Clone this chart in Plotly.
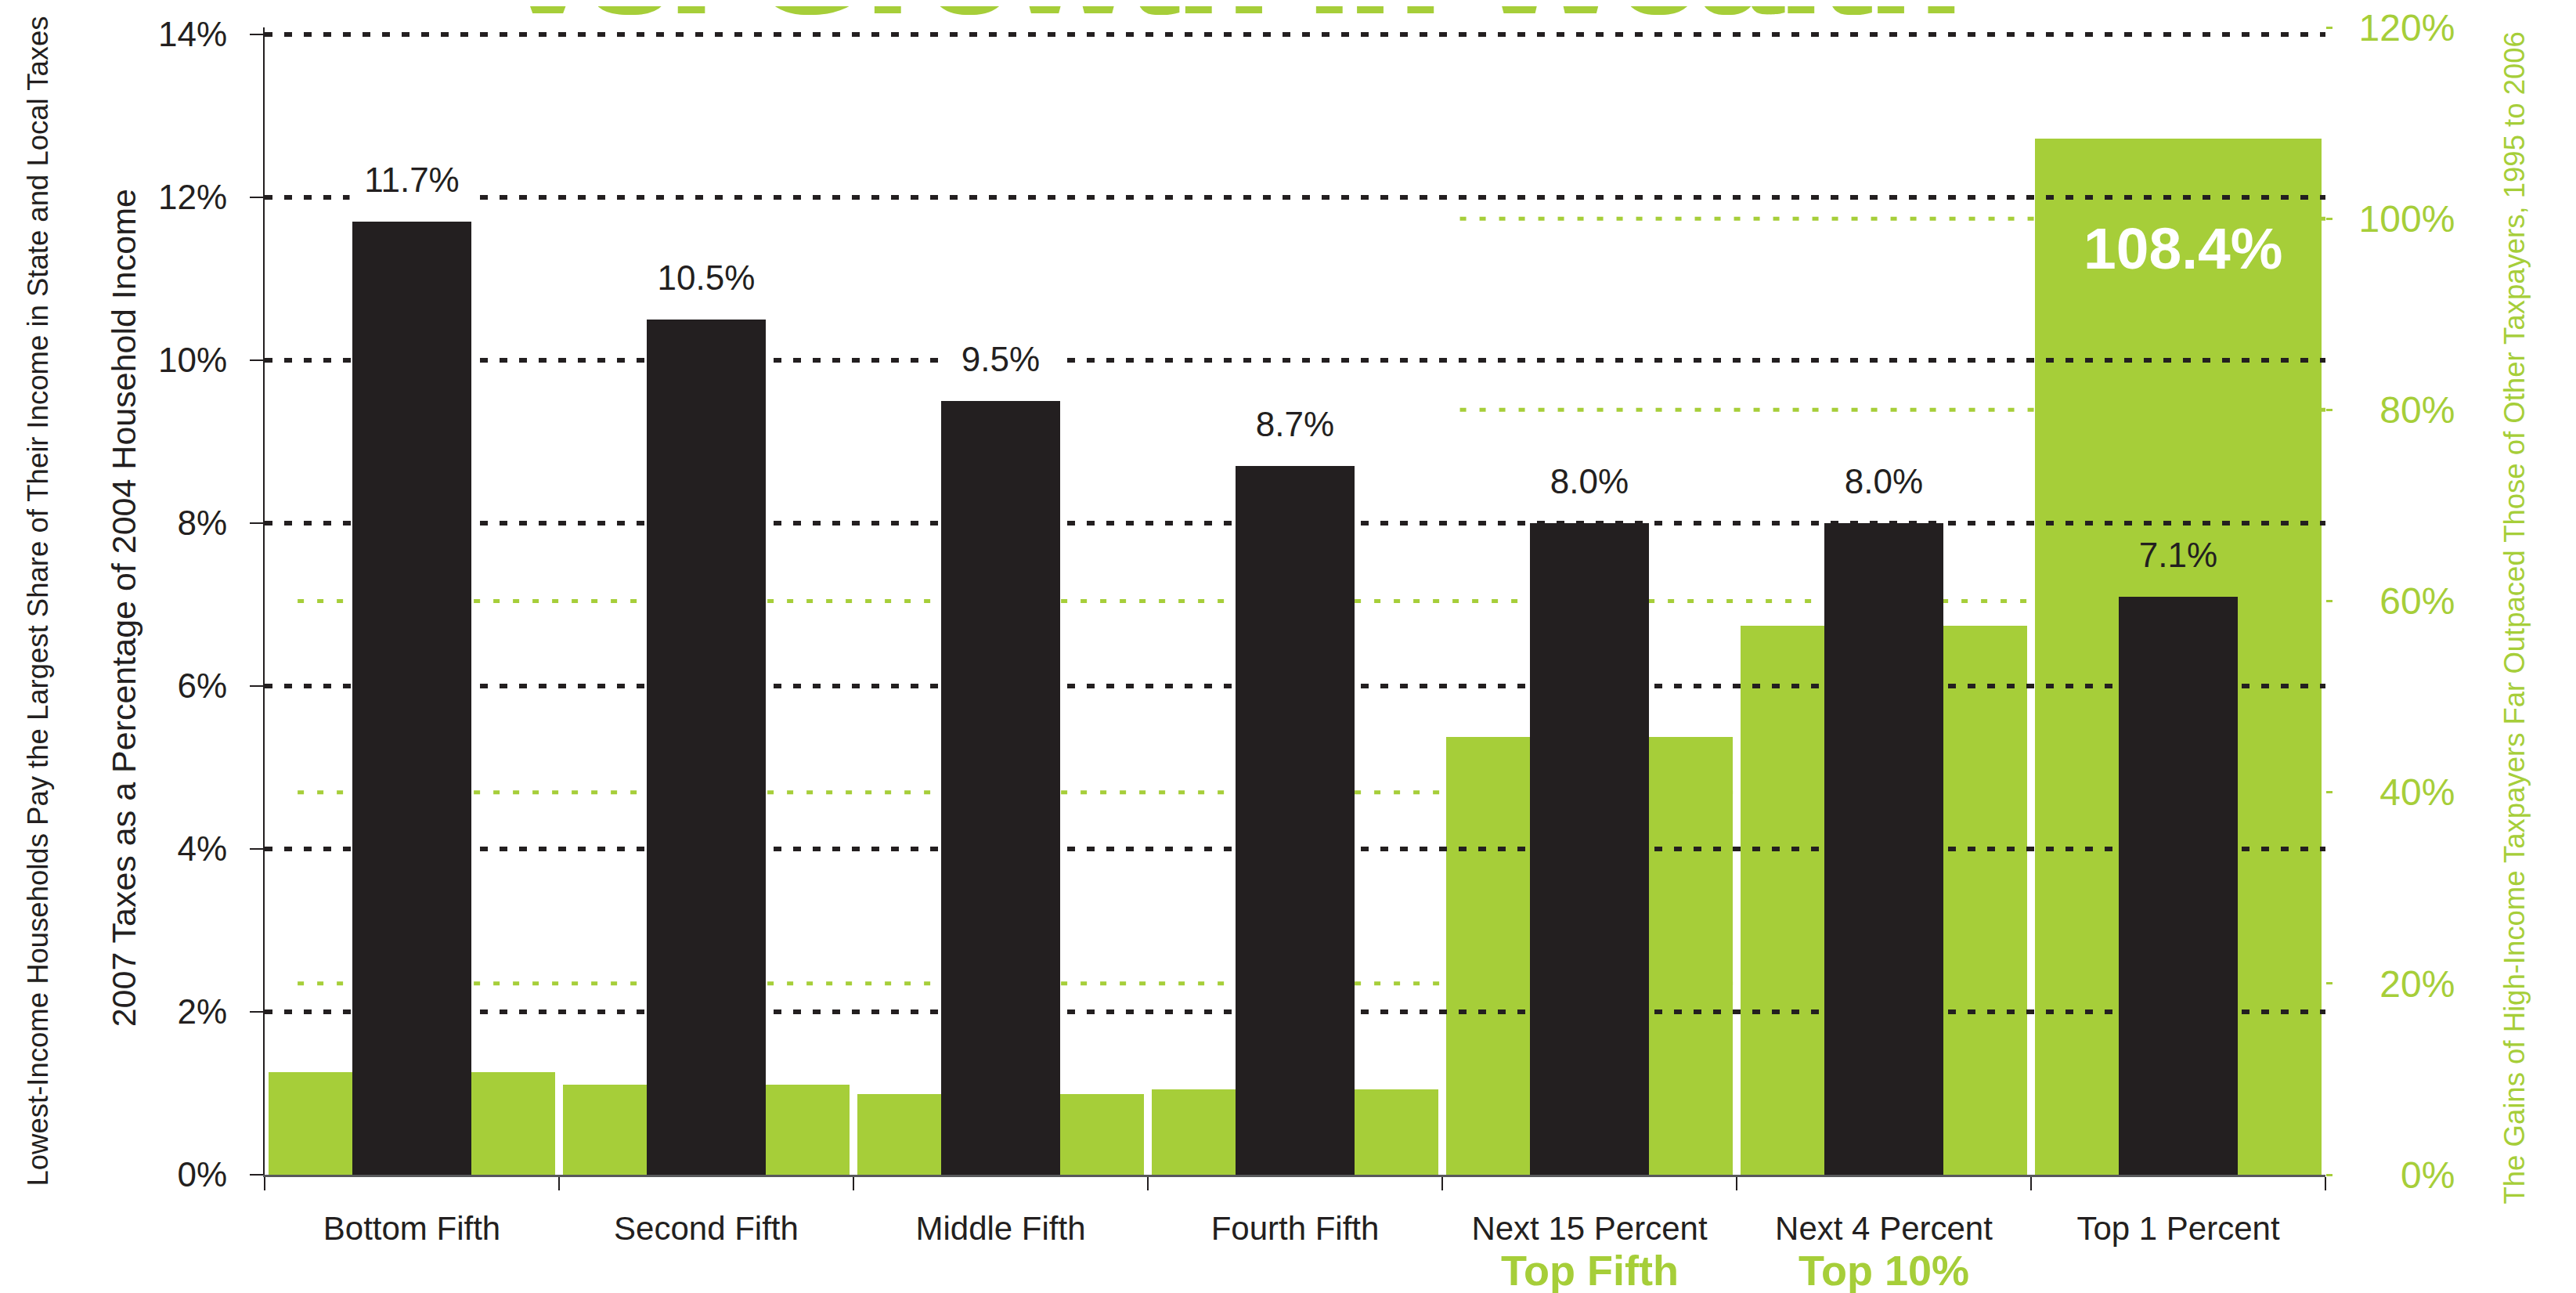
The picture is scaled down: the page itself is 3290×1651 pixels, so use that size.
import plotly.graph_objects as go

# ---------------- data ----------------
categories = ["Bottom Fifth", "Second Fifth", "Middle Fifth", "Fourth Fifth",
              "Next 15 Percent", "Next 4 Percent", "Top 1 Percent"]
tax_share = [11.7, 10.5, 9.5, 8.7, 8.0, 8.0, 7.1]          # left axis, %
wealth_growth = [10.7, 9.4, 8.4, 8.9, 45.8, 57.4, 108.4]   # right axis, %
group_labels = {"Next 15 Percent": "Top Fifth", "Next 4 Percent": "Top 10%"}
left_ticks = [0, 2, 4, 6, 8, 10, 12, 14]
right_ticks = [0, 20, 40, 60, 80, 100, 120]
highlight_value_label = "108.4%"

title_text = "vs. Growth in Wealth"
left_outer_title = ("Lowest-Income Households Pay the Largest Share of Their Income "
                    "in State and Local Taxes")
left_title = "2007 Taxes as a Percentage of 2004 Household Income"
right_title = ("The Gains of High-Income Taxpayers Far Outpaced Those of Other "
               "Taxpayers, 1995 to 2006")

# ---------------- style ----------------
GREEN = "#a6ce39"
BLACK = "#231f20"
GRAY = "#58595b"
SANS = "Liberation Sans, Arial, sans-serif"

W, H = 3290, 1651
ML, MR, MT, MB = 330, 328, 27, 159
plot_w = W - ML - MR
plot_h = H - MT - MB
left_top = 14 * plot_h / (plot_h - 9)

fig = go.Figure()

# green bars (wealth growth) on base axis y (right side)
fig.add_trace(go.Bar(
    x=categories, y=wealth_growth, yaxis="y", width=0.972,
    marker=dict(color=GREEN, line=dict(width=0)), showlegend=False,
    hoverinfo="skip"))

# black bars (tax share) on overlay axis y2 (left side) -> drawn on top
fig.add_trace(go.Bar(
    x=categories, y=tax_share, yaxis="y2", width=0.405,
    marker=dict(color=BLACK, line=dict(width=0)), showlegend=False,
    hoverinfo="skip"))

shapes = []
# black dotted gridlines (left axis) drawn above
for v in left_ticks[1:]:
    shapes.append(dict(type="line", xref="paper", x0=0, x1=1, yref="y2", y0=v, y1=v,
                       layer="above", line=dict(color=BLACK, width=6, dash="10px,15px")))
# green dotted gridlines (right axis) drawn below
for v in right_ticks[1:-1]:
    start = 0.58 if v >= 80 else 0.016
    shapes.append(dict(type="line", xref="paper", x0=start, x1=1, yref="y", y0=v, y1=v,
                       layer="below", line=dict(color=GREEN, width=5, dash="8px,17px")))

annotations = []
# value labels above black bars
for c, v in zip(categories, tax_share):
    annotations.append(dict(
        x=c, y=v, xref="x", yref="y2", text=f"{v:.1f}%", showarrow=False,
        yanchor="bottom", yshift=24, width=150, borderpad=4,
        bgcolor="white" if c != categories[-1] else "rgba(0,0,0,0)",
        font=dict(family=SANS, size=44, color=BLACK)))

# highlighted green value inside the top bar
annotations.append(dict(
    x=categories[-1], y=wealth_growth[-1], xref="x", yref="y",
    text=f"<b>{highlight_value_label}</b>",
    showarrow=False, yanchor="middle", yshift=-140, xshift=6,
    font=dict(family=SANS, size=75, color="white")))

# green group labels under the categories
for c, lab in group_labels.items():
    annotations.append(dict(
        x=c, y=-0.0835, xref="x", yref="paper", text=f"<b>{lab}</b>", showarrow=False,
        yanchor="middle", font=dict(family=SANS, size=54, color=GREEN)))

# cut-off headline at the very top
annotations.append(dict(
    x=0.4704, y=1.0567, xref="paper", yref="paper", text=f"<b>{title_text}</b>",
    showarrow=False, xanchor="center", yanchor="middle",
    font=dict(family=SANS, size=188, color=GREEN,
              shadow=f"4px 0px 0px {GREEN}, -4px 0px 0px {GREEN}")))

# rotated axis titles
annotations.append(dict(
    x=(40 - ML) / plot_w, y=0.5, xref="paper", yref="paper", text=left_outer_title,
    textangle=-90, showarrow=False, xanchor="center", yanchor="middle",
    font=dict(family=SANS, size=36.5, color=BLACK)))
annotations.append(dict(
    x=(150 - ML) / plot_w, y=0.494, xref="paper", yref="paper", text=left_title,
    textangle=-90, showarrow=False, xanchor="center", yanchor="middle",
    font=dict(family=SANS, size=43, color=BLACK)))
annotations.append(dict(
    x=(3203 - ML) / plot_w, y=0.485, xref="paper", yref="paper", text=right_title,
    textangle=-90, showarrow=False, xanchor="center", yanchor="middle",
    font=dict(family=SANS, size=36.5, color=GREEN)))

FS = "\u2007"
maxlen = max(len(str(t)) for t in right_ticks)
right_ticktext = [FS * (maxlen - len(str(t))) + f"{t}%" for t in right_ticks]

fig.update_layout(
    width=W, height=H, autosize=False,
    margin=dict(l=ML, r=MR, t=MT, b=MB, pad=0, autoexpand=False),
    paper_bgcolor="white", plot_bgcolor="white",
    barmode="overlay", bargap=0,
    shapes=shapes, annotations=annotations,
    xaxis=dict(
        type="category", range=[-0.5, len(categories) - 0.5], automargin=False,
        tickson="boundaries", ticks="outside", ticklen=17, tickwidth=1.5, tickangle=0,
        tickcolor=BLACK, showline=True, linecolor=GRAY, linewidth=2.5,
        showgrid=False, zeroline=False, ticklabelstandoff=30,
        tickfont=dict(family=SANS, size=42, color=BLACK)),
    yaxis=dict(
        side="right", range=[0, 120], tickvals=right_ticks, ticktext=right_ticktext,
        automargin=False,
        ticks="outside", ticklen=8, tickwidth=3, tickcolor=GREEN,
        showline=False, showgrid=False, zeroline=False, ticklabelstandoff=24,
        tickfont=dict(family=SANS, size=48, color=GREEN)),
    yaxis2=dict(
        overlaying="y", side="left", range=[0, left_top], tickvals=left_ticks,
        ticktext=[f"{t}%" for t in left_ticks], automargin=False,
        ticks="outside", ticklen=17, tickwidth=1.5, tickcolor=BLACK,
        showline=True, linecolor=BLACK, linewidth=2, showgrid=False, zeroline=False,
        ticklabelstandoff=20,
        tickfont=dict(family=SANS, size=44, color=BLACK)),
)

fig.write_html("out.html")
